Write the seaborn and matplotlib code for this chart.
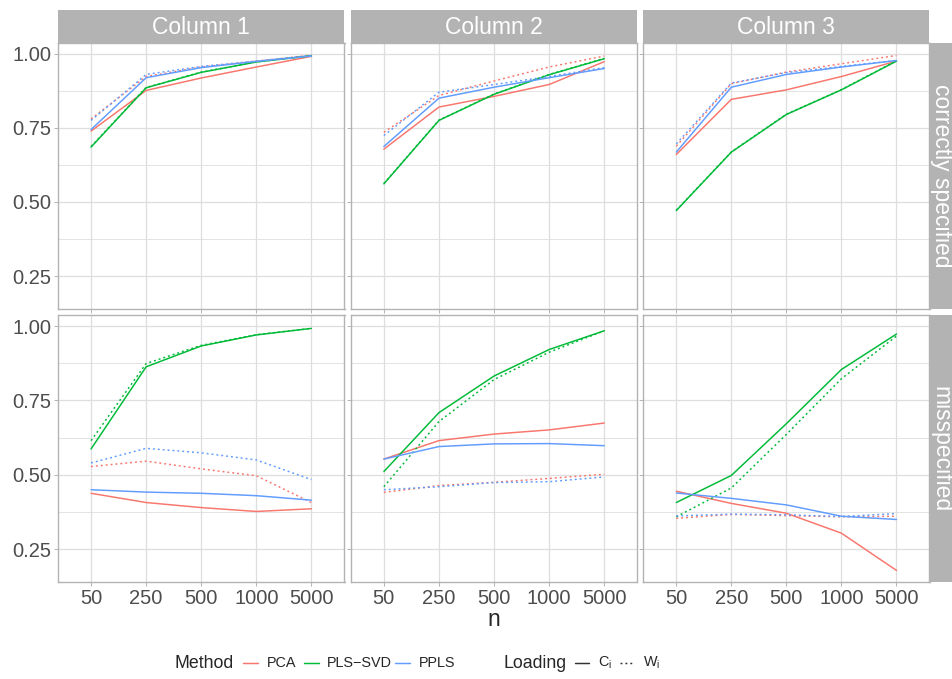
import matplotlib
matplotlib.use("Agg")
import matplotlib.pyplot as plt
from matplotlib.lines import Line2D
import numpy as np
import pandas as pd
import seaborn as sns

# ---- data ----
n_levels = ["50", "250", "500", "1000", "5000"]
columns = ["Column 1", "Column 2", "Column 3"]
specs = ["correctly specified", "misspecified"]
methods = ["PCA", "PLS\u2212SVD", "PPLS"]
loadings = ["C", "W"]

# rows: PCA, PLS-SVD, PPLS ; columns: n = 50, 250, 500, 1000, 5000
col1_correct_C = [[0.739, 0.876, 0.918, 0.955, 0.991],
                  [0.685, 0.885, 0.937, 0.972, 0.993],
                  [0.744, 0.919, 0.953, 0.974, 0.992]]
col1_correct_W = [[0.780, 0.923, 0.955, 0.975, 0.995],
                  [0.687, 0.886, 0.938, 0.972, 0.993],
                  [0.775, 0.930, 0.957, 0.975, 0.994]]
col2_correct_C = [[0.678, 0.820, 0.856, 0.896, 0.973],
                  [0.561, 0.775, 0.863, 0.929, 0.983],
                  [0.687, 0.850, 0.887, 0.919, 0.950]]
col2_correct_W = [[0.735, 0.859, 0.908, 0.955, 0.992],
                  [0.562, 0.776, 0.864, 0.930, 0.984],
                  [0.724, 0.870, 0.896, 0.923, 0.953]]
col3_correct_C = [[0.660, 0.846, 0.878, 0.923, 0.975],
                  [0.471, 0.668, 0.795, 0.878, 0.975],
                  [0.668, 0.887, 0.930, 0.955, 0.977]]
col3_correct_W = [[0.688, 0.899, 0.938, 0.966, 0.994],
                  [0.472, 0.669, 0.796, 0.879, 0.976],
                  [0.696, 0.901, 0.936, 0.957, 0.977]]

col1_miss_C = [[0.438, 0.407, 0.390, 0.377, 0.386],
               [0.587, 0.863, 0.933, 0.970, 0.992],
               [0.450, 0.442, 0.438, 0.430, 0.415]]
col1_miss_W = [[0.528, 0.546, 0.520, 0.497, 0.407],
               [0.615, 0.874, 0.935, 0.971, 0.992],
               [0.540, 0.589, 0.574, 0.550, 0.484]]
col2_miss_C = [[0.553, 0.615, 0.637, 0.651, 0.674],
               [0.511, 0.709, 0.832, 0.921, 0.984],
               [0.553, 0.595, 0.604, 0.605, 0.598]]
col2_miss_W = [[0.441, 0.464, 0.475, 0.488, 0.502],
               [0.460, 0.679, 0.820, 0.912, 0.984],
               [0.450, 0.460, 0.474, 0.477, 0.493]]
col3_miss_C = [[0.445, 0.404, 0.371, 0.304, 0.179],
               [0.407, 0.498, 0.672, 0.854, 0.973],
               [0.439, 0.421, 0.399, 0.361, 0.350]]
col3_miss_W = [[0.354, 0.367, 0.363, 0.359, 0.361],
               [0.359, 0.456, 0.636, 0.823, 0.966],
               [0.362, 0.368, 0.366, 0.360, 0.370]]

panel_data = {
    ("correctly specified", "Column 1"): (col1_correct_C, col1_correct_W),
    ("correctly specified", "Column 2"): (col2_correct_C, col2_correct_W),
    ("correctly specified", "Column 3"): (col3_correct_C, col3_correct_W),
    ("misspecified", "Column 1"): (col1_miss_C, col1_miss_W),
    ("misspecified", "Column 2"): (col2_miss_C, col2_miss_W),
    ("misspecified", "Column 3"): (col3_miss_C, col3_miss_W),
}

rows = []
for (spec, col), (cvals, wvals) in panel_data.items():
    for load, vals in zip(loadings, (cvals, wvals)):
        for m, series in zip(methods, vals):
            for n, v in zip(n_levels, series):
                rows.append(dict(spec=spec, col=col, Method=m, Loading=load, n=n, value=v))
df = pd.DataFrame(rows)

# ---- style ----
sns.set_style("white")
plt.rcParams['font.family'] = ['Liberation Sans', 'DejaVu Sans']
plt.rcParams['mathtext.fontset'] = 'custom'
plt.rcParams['mathtext.rm'] = 'Liberation Sans'
plt.rcParams['mathtext.it'] = 'Liberation Sans'

palette = {"PCA": "#F8766D", "PLS\u2212SVD": "#00BA38", "PPLS": "#619CFF"}
dash_map = {"C": "", "W": (1.3, 2.0)}
grey70 = "#B3B3B3"
grid_col = "#DEDEDE"
lw = 1.07

W, H = 953, 679
fig = plt.figure(figsize=(W / 100, H / 100), dpi=100)


def px_rect(x0, y0, x1, y1):
    return [x0 / W, 1 - y1 / H, (x1 - x0) / W, (y1 - y0) / H]


col_x = [(58, 344.5), (350.8, 637.3), (643.3, 929.5)]
row_y = [(43, 308.7), (315.3, 582)]

for i, spec in enumerate(specs):
    for j, col in enumerate(columns):
        x0, x1 = col_x[j]
        y0, y1 = row_y[i]
        ax = fig.add_axes(px_rect(x0, y0, x1, y1))
        sub = df[(df.spec == spec) & (df.col == col)]
        sns.lineplot(data=sub, x="n", y="value", hue="Method", style="Loading",
                     palette=palette, dashes=dash_map, hue_order=methods,
                     style_order=loadings, linewidth=lw, legend=False,
                     errorbar=None, sort=False, ax=ax)
        ax.set_xlim(-0.6, 4.6)
        ax.set_ylim(0.14, 1.036)
        ax.set_yticks([0.25, 0.5, 0.75, 1.0])
        ax.set_yticks([0.375, 0.625, 0.875], minor=True)
        ax.grid(which="major", color=grid_col, linewidth=0.9)
        ax.grid(which="minor", axis="y", color=grid_col, linewidth=0.6)
        ax.set_axisbelow(True)
        for s in ax.spines.values():
            s.set_color(grey70)
            s.set_linewidth(1.0)
        ax.tick_params(which="major", length=3, width=0.7, color=grey70,
                       labelsize=14.5, labelcolor="#4D4D4D", pad=2.0,
                       left=True, bottom=True)
        ax.tick_params(which="minor", length=0)
        ax.set_xlabel("")
        ax.set_ylabel("")
        if j == 0:
            ax.set_yticklabels(["0.25", "0.50", "0.75", "1.00"])
        else:
            ax.set_yticklabels([])
        if i == 0:
            ax.set_xticklabels([])
        else:
            ax.set_xticks(range(len(n_levels)))
            ax.set_xticklabels(n_levels)

# top strips
for j, col in enumerate(columns):
    x0, x1 = col_x[j]
    sax = fig.add_axes(px_rect(x0, 10, x1, 43))
    sax.set_facecolor(grey70)
    sax.set_xticks([])
    sax.set_yticks([])
    for s in sax.spines.values():
        s.set_visible(False)
    sax.text(0.5, 0.47, col, color="white", fontsize=16.5, ha="center", va="center",
             transform=sax.transAxes)

# right strips
for i, spec in enumerate(specs):
    y0, y1 = row_y[i]
    sax = fig.add_axes(px_rect(929.5, y0, 953, y1))
    sax.set_facecolor(grey70)
    sax.set_xticks([])
    sax.set_yticks([])
    for s in sax.spines.values():
        s.set_visible(False)
    sax.text(0.5, 0.5, spec, color="white", fontsize=16.5, ha="center", va="center",
             rotation=-90, transform=sax.transAxes)

# axis title
fig.text(493.75 / W, 1 - 620 / H, "n", fontsize=16.5, ha="center", va="center")

# legend (bottom)
ly = 1 - 663 / H


def key_line(xa, xb, color, dashes=None):
    ln = Line2D([xa / W, xb / W], [ly, ly], transform=fig.transFigure,
                color=color, linewidth=lw)
    if dashes:
        ln.set_dashes(dashes)
    fig.add_artist(ln)


title_size = 12.8
label_size = 10.4
fig.text(175 / W, ly, "Method", fontsize=title_size, ha="left", va="center")
key_line(243, 258, palette["PCA"])
fig.text(266.7 / W, ly, "PCA", fontsize=label_size, ha="left", va="center")
key_line(304, 319, palette["PLS\u2212SVD"])
fig.text(326.7 / W, ly, "PLS\u2212SVD", fontsize=label_size, ha="left", va="center")
key_line(395, 410, palette["PPLS"])
fig.text(419.3 / W, ly, "PPLS", fontsize=label_size, ha="left", va="center")

fig.text(503.3 / W, ly, "Loading", fontsize=title_size, ha="left", va="center")
key_line(575, 589, "#333333")
fig.text(598.3 / W, ly, r"$\mathregular{C_i}$", fontsize=label_size, ha="left", va="center")
key_line(620, 634, "#333333", dashes=(1.3, 2.0))
fig.text(642.7 / W, ly, r"$\mathregular{W_i}$", fontsize=label_size, ha="left", va="center")

fig.savefig("out.png", dpi=100)
